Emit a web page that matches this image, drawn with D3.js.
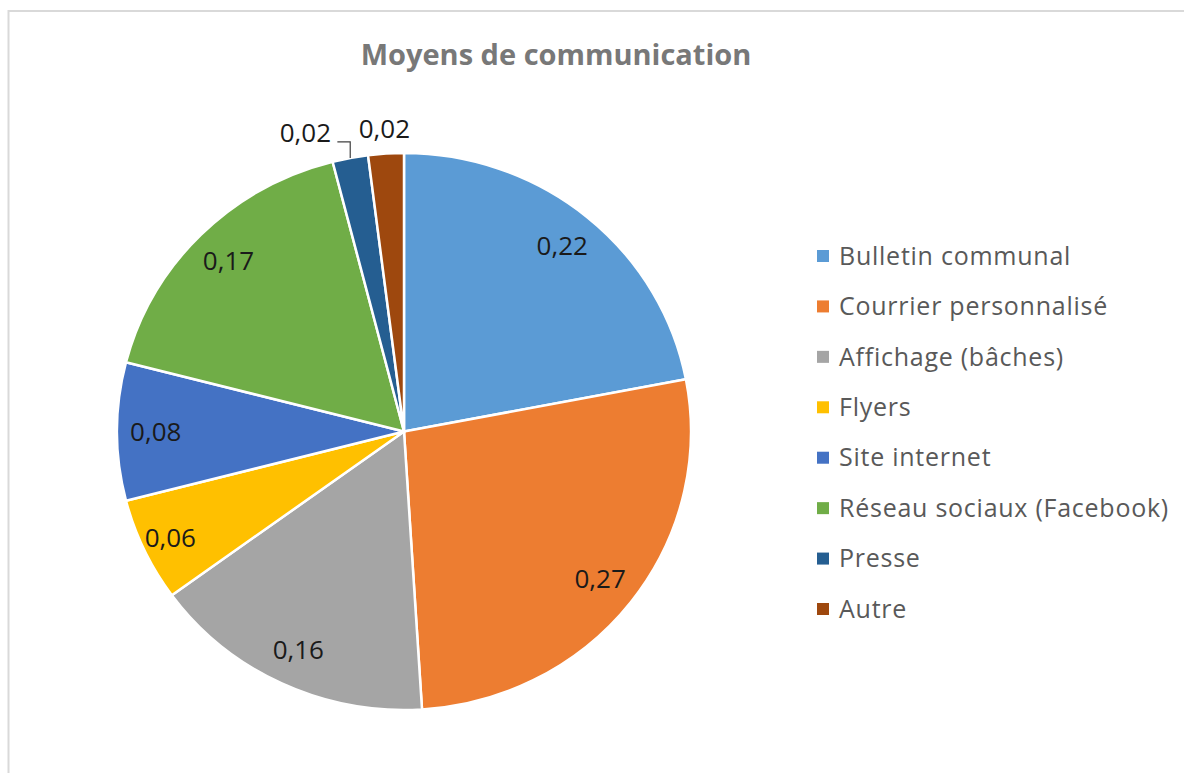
<!DOCTYPE html>
<html>
<head>
<meta charset="utf-8">
<script src="https://cdn.jsdelivr.net/npm/d3@7"></script>
<style>
  body { margin: 0; background: #fff; }
  svg { display: block; font-family: "Open Sans", sans-serif; }
</style>
</head>
<body>
<svg width="1184" height="773"></svg>
<script>
// data
var categories = ["Bulletin communal", "Courrier personnalisé", "Affichage (bâches)", "Flyers",
                  "Site internet", "Réseau sociaux (Facebook)", "Presse", "Autre"];
var values = [0.22, 0.27, 0.16, 0.06, 0.08, 0.17, 0.02, 0.02];
var colors = ["#5B9BD5", "#ED7D31", "#A5A5A5", "#FFC000", "#4472C4", "#70AD47", "#255E91", "#9E480E"];

var fmt = function(v) { return d3.format(".2f")(v).replace(".", ","); };

var svg = d3.select("svg");

// chart border (runs off the right / bottom of the picture)
svg.append("rect")
    .attr("x", 8.5).attr("y", 11)
    .attr("width", 1200).attr("height", 800)
    .attr("fill", "none").attr("stroke", "#d9d9d9").attr("stroke-width", 2);

svg.append("text")
    .attr("x", 556).attr("y", 65)
    .attr("text-anchor", "middle")
    .attr("font-size", 29).attr("font-weight", "bold")
    .attr("fill", "#787878")
    .text("Moyens de communication");

// pie is a little wider than tall in the picture
var cx = 404, cy = 431.5, r = 278.5, sx = 287 / 278.5;

var pie = d3.pie().sort(null).value(function(d) { return d; });
var arcs = pie(values);
var arc = d3.arc().innerRadius(0).outerRadius(r);

var g = svg.append("g").attr("transform", "translate(" + cx + "," + cy + ")");

g.append("g").attr("transform", "scale(" + sx + ",1)")
  .selectAll("path").data(arcs).enter().append("path")
    .attr("d", arc)
    .attr("fill", function(d, i) { return colors[i]; })
    .attr("stroke", "#fff").attr("stroke-width", 2.5)
    .attr("vector-effect", "non-scaling-stroke");

function pt(a, k) {
    return [Math.sin(a) * r * k * sx, -Math.cos(a) * r * k];
}

// inside labels
var inside = arcs.filter(function(d) { return d.data >= 0.05; });
g.selectAll("text.in").data(inside).enter().append("text")
    .attr("class", "in")
    .attr("x", function(d) { return pt((d.startAngle + d.endAngle) / 2, d.data < 0.07 ? 0.9 : 0.865)[0]; })
    .attr("y", function(d) { return pt((d.startAngle + d.endAngle) / 2, d.data < 0.07 ? 0.9 : 0.865)[1]; })
    .attr("dy", "0.35em")
    .attr("text-anchor", "middle")
    .attr("font-size", 26).attr("fill", "#1a1a1a")
    .text(function(d) { return fmt(d.data); });

// outside labels for the small slices
var outside = arcs.filter(function(d) { return d.data < 0.05; });
var lw = 52;
var pos = outside.map(function(d) {
    var a = (d.startAngle + d.endAngle) / 2;
    var p = pt(a, 1.09);
    return { d: d, a: a, x: p[0], y: p[1], moved: false };
});
for (var i = pos.length - 2; i >= 0; i--) {
    var nextLeft = pos[i + 1].x - lw / 2;
    if (pos[i].x + lw / 2 > nextLeft) {
        pos[i].x = nextLeft - 27 - lw / 2;
        pos[i].moved = true;
    }
}

g.selectAll("path.leader").data(pos.filter(function(p) { return p.moved; })).enter()
  .append("path")
    .attr("class", "leader")
    .attr("fill", "none").attr("stroke", "#404040").attr("stroke-width", 1.2)
    .attr("d", function(p) {
        var e = pt(p.a, 1);
        var by = p.y + 8.5;
        return "M" + e[0] + "," + e[1] + "L" + e[0] + "," + by + "L" + (p.x + lw / 2 + 6) + "," + by;
    });

g.selectAll("text.out").data(pos).enter().append("text")
    .attr("class", "out")
    .attr("x", function(p) { return p.x; })
    .attr("y", function(p) { return p.y; })
    .attr("dy", "0.35em")
    .attr("text-anchor", "middle")
    .attr("font-size", 26).attr("fill", "#1a1a1a")
    .text(function(p) { return fmt(p.d.data); });

// legend
var ly = d3.scalePoint().domain(categories).range([256, 609]);
var legend = svg.append("g").selectAll("g").data(categories).enter().append("g")
    .attr("transform", function(d) { return "translate(817," + ly(d) + ")"; });
legend.append("rect")
    .attr("x", 0).attr("y", -6).attr("width", 12).attr("height", 12)
    .attr("fill", function(d, i) { return colors[i]; });
legend.append("text")
    .attr("x", 22).attr("y", 0).attr("dy", "0.35em")
    .attr("font-size", 25).attr("letter-spacing", 0.75).attr("fill", "#595959")
    .text(function(d) { return d; });
</script>
</body>
</html>
